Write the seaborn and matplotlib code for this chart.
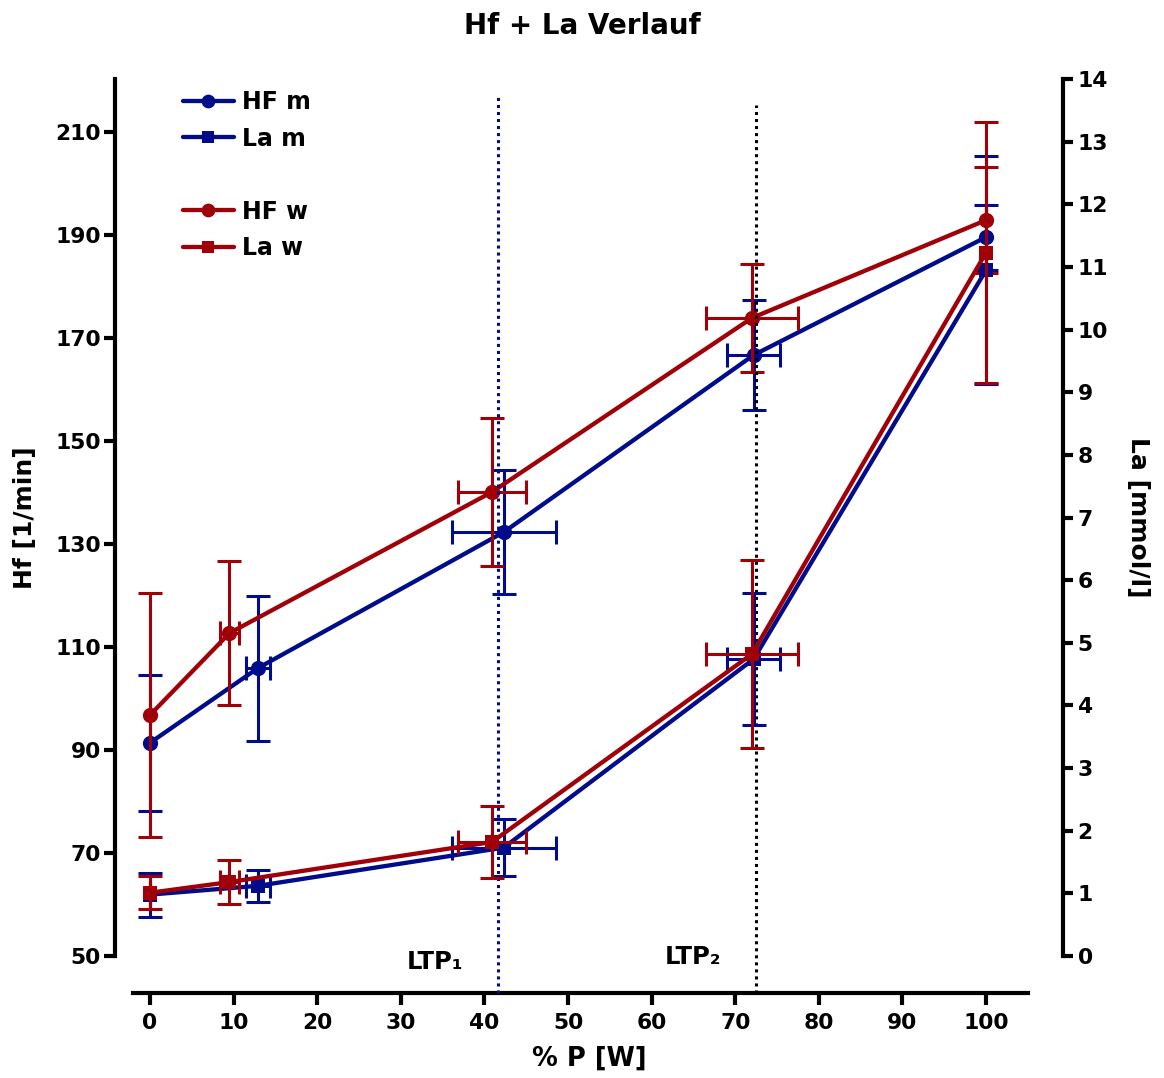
import matplotlib
matplotlib.use("Agg")
import matplotlib.pyplot as plt
import seaborn as sns
import pandas as pd
from matplotlib.lines import Line2D

# ---------------- data ----------------
P_m = [0, 12.9, 42.3, 72.2, 100]
P_m_err = [0, 1.4, 6.2, 3.2, 0]
P_w = [0, 9.5, 40.9, 72.0, 100]
P_w_err = [0, 1.1, 4.1, 5.5, 0]

HF_m = [91.4, 105.9, 132.3, 166.7, 189.6]
HF_m_sd = [13.2, 14.1, 12.0, 10.7, 6.3]
HF_w = [96.8, 112.7, 140.1, 173.9, 192.9]
HF_w_sd = [23.6, 14.0, 14.4, 10.4, 10.3]

La_m = [0.98, 1.12, 1.73, 4.74, 10.95]
La_m_sd = [0.35, 0.25, 0.45, 1.06, 1.82]
La_w = [1.01, 1.18, 1.82, 4.82, 11.23]
La_w_sd = [0.26, 0.35, 0.58, 1.50, 2.09]

LTP_x = [41.6, 72.5]
LTP_labels = ["LTP\u2081", "LTP\u2082"]

hf_ticks = [50, 70, 90, 110, 130, 150, 170, 190, 210]
la_ticks = list(range(0, 15))
x_ticks = list(range(0, 101, 10))

BLUE = "#000c8a"
RED = "#a00008"

# ---------------- style ----------------
sns.set_theme(style="ticks")
plt.rcParams["font.family"] = ["DejaVu Sans"]
plt.rcParams["font.weight"] = "bold"
plt.rcParams["axes.labelweight"] = "bold"
for k in ("text.color", "axes.labelcolor", "xtick.color", "ytick.color", "axes.edgecolor"):
    plt.rcParams[k] = "black"

W, H = 1164, 1078
fig = plt.figure(figsize=(W / 100, H / 100), dpi=100)
L, R, T, B = 115, 1063, 79, 956
ax = fig.add_axes([L / W, 1 - B / H, (R - L) / W, (B - T) / H])
ax2 = ax.twinx()

ax.set_xlim(-4.19, 109.2)
ax.set_ylim(50, 220.3)
ax2.set_ylim(0, 14)

lw = 3.1
ms = 11
elw = 2.2
cap = 8.5

df_hf_m = pd.DataFrame({"P": P_m, "HF": HF_m})
df_hf_w = pd.DataFrame({"P": P_w, "HF": HF_w})
df_la_m = pd.DataFrame({"P": P_m, "La": La_m})
df_la_w = pd.DataFrame({"P": P_w, "La": La_w})

# HF (left axis)
ax.errorbar(P_m, HF_m, xerr=P_m_err, yerr=HF_m_sd, fmt="none", ecolor=BLUE,
            elinewidth=elw, capsize=cap, capthick=elw, zorder=2)
sns.lineplot(data=df_hf_m, x="P", y="HF", ax=ax, color=BLUE, marker="o",
             markersize=ms, markeredgewidth=0, linewidth=lw, zorder=3)
ax.errorbar(P_w, HF_w, xerr=P_w_err, yerr=HF_w_sd, fmt="none", ecolor=RED,
            elinewidth=elw, capsize=cap, capthick=elw, zorder=4)
sns.lineplot(data=df_hf_w, x="P", y="HF", ax=ax, color=RED, marker="o",
             markersize=ms, markeredgewidth=0, linewidth=lw, zorder=5)

# La (right axis)
ax2.errorbar(P_m, La_m, xerr=P_m_err, yerr=La_m_sd, fmt="none", ecolor=BLUE,
             elinewidth=elw, capsize=cap, capthick=elw, zorder=2)
sns.lineplot(data=df_la_m, x="P", y="La", ax=ax2, color=BLUE, marker="s",
             markersize=ms * 0.95, markeredgewidth=0, linewidth=lw, zorder=3)
ax2.errorbar(P_w, La_w, xerr=P_w_err, yerr=La_w_sd, fmt="none", ecolor=RED,
             elinewidth=elw, capsize=cap, capthick=elw, zorder=4)
sns.lineplot(data=df_la_w, x="P", y="La", ax=ax2, color=RED, marker="s",
             markersize=ms * 0.95, markeredgewidth=0, linewidth=lw, zorder=5)

# threshold lines
ltp_colors = [BLUE, "black"]
ltp_top = [0.982, 0.970]
ltp_text_dy = [-6, -1]
for xv, c, top, lab, dy in zip(LTP_x, ltp_colors, ltp_top, LTP_labels, ltp_text_dy):
    ax2.axvline(xv, ymin=-0.042, ymax=top, color=c, linestyle=(0, (1, 1.3)),
                linewidth=2.2, clip_on=False, zorder=1)
    ax2.annotate(lab, xy=(xv, 0), xycoords=("data", "axes fraction"),
                 xytext=(-45.5, dy * 0.72), textcoords="offset points",
                 ha="center", va="center", fontsize=17.5, fontweight="bold")

# axes styling
for a in (ax, ax2):
    for s in a.spines.values():
        s.set_linewidth(3)
        s.set_color("black")
    a.spines["top"].set_visible(False)
    a.grid(False)
ax.spines["right"].set_visible(False)
ax2.spines["left"].set_visible(False)
ax2.spines["bottom"].set_visible(False)
ax.spines["bottom"].set_position(("outward", 26.6))
ax.spines["bottom"].set_bounds(-2, 105)

ax.set_xticks(x_ticks)
ax.set_yticks(hf_ticks)
ax2.set_yticks(la_ticks)
ax.tick_params(axis="x", length=8.5, width=3, pad=6, labelsize=15.7, direction="out")
ax.tick_params(axis="y", length=8, width=3, pad=2, labelsize=15.7, direction="out")
ax2.tick_params(axis="y", length=7.5, width=3, pad=3, labelsize=15.7, direction="out")
for lab in ax.get_xticklabels() + ax.get_yticklabels() + ax2.get_yticklabels():
    lab.set_fontweight("bold")

ax.set_xlabel("% P [W]", fontsize=18.5, fontweight="bold", labelpad=9)
ax.set_ylabel("Hf [1/min]", fontsize=18, fontweight="bold", labelpad=13)
ax2.set_ylabel("La [mmol/l]", fontsize=18, fontweight="bold", rotation=270, labelpad=30)

fig.text(0.5, 1 - 26 / H, "Hf + La Verlauf", ha="center", va="center",
         fontsize=20, fontweight="bold")

# legend
h_hfm = Line2D([], [], color=BLUE, marker="o", markersize=ms * 0.9, linewidth=lw, markeredgewidth=0)
h_lam = Line2D([], [], color=BLUE, marker="s", markersize=ms * 0.85, linewidth=lw, markeredgewidth=0)
h_blank = Line2D([], [], color="none")
h_hfw = Line2D([], [], color=RED, marker="o", markersize=ms * 0.9, linewidth=lw, markeredgewidth=0)
h_law = Line2D([], [], color=RED, marker="s", markersize=ms * 0.85, linewidth=lw, markeredgewidth=0)
for a in (ax, ax2):
    lg = a.get_legend()
    if lg is not None:
        lg.remove()
leg = ax2.legend([h_hfm, h_lam, h_blank, h_hfw, h_law],
                 ["HF m", "La m", "", "HF w", "La w"],
                 loc="upper left", bbox_to_anchor=(183 / W, 1 - 90 / H),
                 bbox_transform=fig.transFigure, frameon=False,
                 borderpad=0, borderaxespad=0, handlelength=2.15,
                 handletextpad=0.35, labelspacing=0.53,
                 prop={"size": 17, "weight": "bold"})

ax.set_zorder(1)
ax2.set_zorder(2)
ax2.patch.set_visible(False)

fig.savefig("out.png", dpi=100)
